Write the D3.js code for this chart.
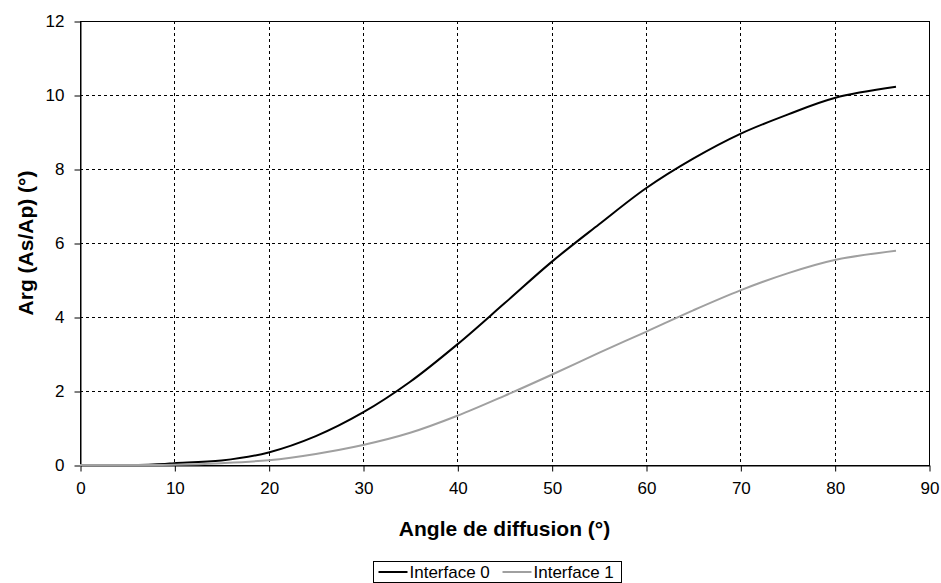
<!DOCTYPE html>
<html>
<head>
<meta charset="utf-8">
<script src="https://cdn.jsdelivr.net/npm/d3@7"></script>
<style>
  body { margin: 0; background: #fff; }
  svg { display: block; font-family: "Liberation Sans", Arial, sans-serif; }
  .grid line { stroke: #000; stroke-dasharray: 3,3; stroke-width: 1; }
  .axis path, .axis line { stroke: #000; stroke-width: 1; }
  .axis text { font-size: 17px; fill: #000; }
</style>
</head>
<body>
<div id="chart"></div>
<script>
// angle de diffusion (deg) and Arg(As/Ap) (deg)
const angle0 = [0, 5, 9, 10, 15, 20, 25, 30, 35, 40, 45, 50, 55, 60, 65, 70, 75, 80, 86.5];
const iface0 = [0, 0, 0.03, 0.05, 0.12, 0.34, 0.78, 1.42, 2.25, 3.26, 4.37, 5.49, 6.5, 7.48, 8.28, 8.95, 9.47, 9.92, 10.22];

const angle1 = [0, 10, 15, 20, 25, 30, 35, 40, 45, 50, 55, 60, 65, 70, 75, 80, 86.5];
const iface1 = [0, 0.01, 0.05, 0.13, 0.3, 0.54, 0.87, 1.33, 1.87, 2.44, 3.03, 3.6, 4.18, 4.72, 5.18, 5.54, 5.79];

const xTicks = [0, 10, 20, 30, 40, 50, 60, 70, 80, 90];
const yTicks = [0, 2, 4, 6, 8, 10, 12];

const seriesNames = ["Interface 0", "Interface 1"];
const seriesColors = ["#000000", "#a0a0a0"];

const W = 941, H = 583;
const margin = { left: 80, top: 21, right: 12, bottom: 118 };
const iw = W - margin.left - margin.right;   // ~849
const ih = H - margin.top - margin.bottom;   // ~444

const svg = d3.select("#chart").append("svg")
    .attr("width", W)
    .attr("height", H);

const g = svg.append("g")
    .attr("transform", `translate(${margin.left},${margin.top})`);

const x = d3.scaleLinear().domain([0, 90]).range([0, iw]);
const y = d3.scaleLinear().domain([0, 12]).range([ih, 0]);

// dashed grid
const grid = g.append("g").attr("class", "grid");
grid.selectAll(".vx")
    .data(xTicks.filter(d => d > 0 && d < 90))
    .enter().append("line")
    .attr("x1", d => Math.round(x(d)) + 0.5).attr("x2", d => Math.round(x(d)) + 0.5)
    .attr("y1", 0).attr("y2", ih);
grid.selectAll(".hy")
    .data(yTicks.filter(d => d > 0 && d < 12))
    .enter().append("line")
    .attr("y1", d => Math.round(y(d)) + 0.5).attr("y2", d => Math.round(y(d)) + 0.5)
    .attr("x1", 0).attr("x2", iw);

// plot frame
g.append("rect")
    .attr("x", 0.5).attr("y", 0.5)
    .attr("width", iw).attr("height", ih)
    .attr("fill", "none").attr("stroke", "#000");

// axes
g.append("g")
    .attr("class", "axis")
    .attr("transform", `translate(0.5,${ih + 0.5})`)
    .call(d3.axisBottom(x).tickValues(xTicks).tickSize(6).tickPadding(10).tickSizeOuter(0));

g.append("g")
    .attr("class", "axis")
    .attr("transform", "translate(0.5,0.5)")
    .call(d3.axisLeft(y).tickValues(yTicks).tickSize(6).tickPadding(10).tickSizeOuter(0));

// curves
const line = d3.line()
    .x(d => x(d[0]))
    .y(d => y(d[1]))
    .curve(d3.curveCatmullRom.alpha(0.5));

const series = [
    d3.zip(angle0, iface0),
    d3.zip(angle1, iface1)
];

g.selectAll(".curve")
    .data(series)
    .enter().append("path")
    .attr("class", "curve")
    .attr("fill", "none")
    .attr("stroke", (d, i) => seriesColors[i])
    .attr("stroke-width", 2)
    .attr("d", line);

// axis titles
svg.append("text")
    .attr("x", margin.left + iw / 2)
    .attr("y", 536)
    .attr("text-anchor", "middle")
    .attr("font-size", 21)
    .attr("font-weight", "bold")
    .text("Angle de diffusion (°)");

svg.append("text")
    .attr("transform", `translate(33,${margin.top + ih / 2}) rotate(-90)`)
    .attr("text-anchor", "middle")
    .attr("font-size", 21)
    .attr("font-weight", "bold")
    .text("Arg (As/Ap) (°)");

// legend
const legend = svg.append("g").attr("transform", "translate(373.5,561.5)");
legend.append("rect")
    .attr("width", 248).attr("height", 21)
    .attr("fill", "#fff").attr("stroke", "#000");

const item = legend.selectAll(".item")
    .data(seriesNames)
    .enter().append("g")
    .attr("transform", (d, i) => `translate(${5 + i * 124},0)`);
item.append("line")
    .attr("x1", 0).attr("x2", 29)
    .attr("y1", 10.5).attr("y2", 10.5)
    .attr("stroke", (d, i) => seriesColors[i])
    .attr("stroke-width", 2);
item.append("text")
    .attr("x", 31).attr("y", 16.5)
    .attr("font-size", 17)
    .text(d => d);
</script>
</body>
</html>
